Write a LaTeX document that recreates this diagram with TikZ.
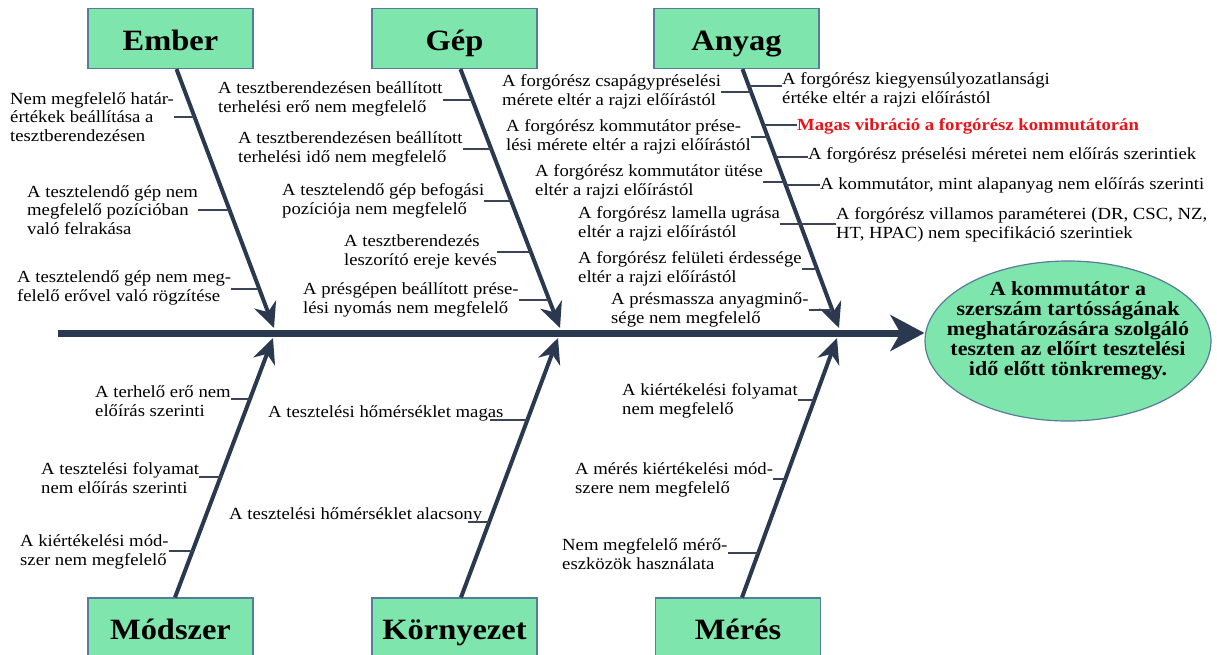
\documentclass[tikz,border=0pt]{standalone}
\usepackage{fontspec}
\setmainfont{Liberation Serif}[FakeStretch=1.1]
\usepackage{tikz}
\usetikzlibrary{arrows.meta}
\usetikzlibrary{shapes}
\usetikzlibrary{calc}
\usetikzlibrary{positioning}
\definecolor{boxgreen}{RGB}{126,230,172}
\definecolor{boxedge}{RGB}{86,124,156}
\definecolor{bonecol}{RGB}{42,56,80}
\definecolor{tickcol}{RGB}{58,68,86}
\definecolor{hotred}{RGB}{232,20,26}

\begin{document}
\begin{tikzpicture}
          [x=1pt, y=-1pt,
           catbox/.style={draw=boxedge, line width=1.2pt, fill=boxgreen, minimum width=165pt, minimum height=60pt, inner sep=0pt, text height=23pt, text depth=0pt, font=\fontsize{29.5}{30}\selectfont\bfseries},
           cause/.style={align=left, inner sep=0pt, font=\fontsize{17}{18.5}\selectfont},
           bone/.style={bonecol, line width=4pt, -{Stealth[length=25pt, width=23pt, inset=8pt]}},
           spine/.style={bonecol, line width=7pt, -{Stealth[length=34pt, width=36pt, inset=10pt]}},
           tick/.style={tickcol, line width=1.4pt}]
          \useasboundingbox (0,0) rectangle (1217,654);

          \node[catbox] (ember) at (170.5,38.5) {Ember};
          \node[catbox] (gep) at (454.5,38.5) {Gép};
          \node[catbox] (anyag) at (736.5,38.5) {Anyag};
          \node[catbox] (modszer) at (170.5,628) {Módszer};
          \node[catbox] (kornyezet) at (454.5,628) {Környezet};
          \node[catbox] (meres) at (738,628) {Mérés};

          \node[draw=boxedge, line width=1.2pt, fill=boxgreen, ellipse, minimum width=286pt, minimum height=160pt, inner sep=0pt] (effect) at (1068,341) {};
          \node[align=center, font=\fontsize{20}{20}\selectfont\bfseries] (effectText) at (1068,331) {A kommutátor a\\szerszám tartósságának\\meghatározására szolgáló\\teszten az előírt tesztelési\\idő előtt tönkremegy.};

          \coordinate (spineStart) at (58,333);
          \coordinate (emberTip) at (274,328);
          \coordinate (gepTip) at (560,328);
          \coordinate (anyagTip) at (839,328);
          \coordinate (modszerTip) at (273,338);
          \coordinate (kornyezetTip) at (558,338);
          \coordinate (meresTip) at (837,338);

          \draw[spine] (spineStart) -- (spineStart -| effect.west);
          \draw[bone] ([xshift=6pt]ember.south) -- (emberTip);
          \draw[bone] ([xshift=6pt]gep.south) -- (gepTip);
          \draw[bone] ([xshift=6pt]anyag.south) -- (anyagTip);
          \draw[bone] ([xshift=4.5pt]modszer.north) -- (modszerTip);
          \draw[bone] ([xshift=6.5pt]kornyezet.north) -- (kornyezetTip);
          \draw[bone] ([xshift=4pt]meres.north) -- (meresTip);

          % Ember
          \node[cause, anchor=west] (e1) at (10,117) {Nem megfelelő határ-\\értékek beállítása a\\tesztberendezésen};
          \node[cause, anchor=west] (e2) at (27,210) {A tesztelendő gép nem\\megfelelő pozícióban\\való felrakása};
          \node[cause, anchor=west] (e3) at (17,288) {A tesztelendő gép nem meg-\\felelő erővel való rögzítése};
          \coordinate (e1b) at (194.9,117);
          \coordinate (e2b) at (229.8,210);
          \coordinate (e3b) at (259.4,289);
          \foreach \c in {e1,e2,e3}
            \draw[tick] (\c.east |- \c b) -- (\c b);

          % Gep
          \node[cause, anchor=west] (g1) at (218,99) {A tesztberendezésen beállított\\terhelési erő nem megfelelő};
          \node[cause, anchor=west] (g2) at (238,149) {A tesztberendezésen beállított\\terhelési idő nem megfelelő};
          \node[cause, anchor=west] (g3) at (282,201) {A tesztelendő gép befogási\\pozíciója nem megfelelő};
          \node[cause, anchor=west] (g4) at (344,252) {A tesztberendezés\\leszorító ereje kevés};
          \node[cause, anchor=west] (g5) at (303,300) {A présgépen beállított prése-\\lési nyomás nem megfelelő};
          \coordinate (g1b) at (472.7,100);
          \coordinate (g2b) at (491.5,149);
          \coordinate (g3b) at (511.4,201);
          \coordinate (g4b) at (530.9,252);
          \coordinate (g5b) at (549.3,300);
          \foreach \c in {g1,g2,g3,g4,g5}
            \draw[tick] (\c.east |- \c b) -- (\c b);

          % Anyag
          \node[cause, anchor=west] (a1) at (502,92) {A forgórész csapágypréselési\\mérete eltér a rajzi előírástól};
          \node[cause, anchor=west] (a2) at (506,137) {A forgórész kommutátor prése-\\lési mérete eltér a rajzi előírástól};
          \node[cause, anchor=west] (a3) at (535,182) {A forgórész kommutátor ütése\\eltér a rajzi előírástól};
          \node[cause, anchor=west] (a4) at (578,224) {A forgórész lamella ugrása\\eltér a rajzi előírástól};
          \node[cause, anchor=west] (a5) at (578,269) {A forgórész felületi érdessége\\eltér a rajzi előírástól};
          \node[cause, anchor=west] (a6) at (611,310) {A présmassza anyagminő-\\sége nem megfelelő};
          \coordinate (a1b) at (751.4,92);
          \coordinate (a2b) at (768.1,137);
          \coordinate (a3b) at (784.8,182);
          \coordinate (a4b) at (800.4,224);
          \coordinate (a5b) at (817.1,269);
          \coordinate (a6b) at (832.3,310);
          \foreach \c in {a1,a2,a3,a4,a5,a6}
            \draw[tick] (\c.east |- \c b) -- (\c b);

          \node[cause, anchor=west] (r1) at (782,90) {A forgórész kiegyensúlyozatlansági\\értéke eltér a rajzi előírástól};
          \node[cause, anchor=west, text=hotred, font=\fontsize{17}{18.5}\selectfont\bfseries] (r2) at (797,126) {Magas vibráció a forgórész kommutátorán};
          \node[cause, anchor=west] (r3) at (808,155) {A forgórész préselési méretei nem előírás szerintiek};
          \node[cause, anchor=west] (r4) at (820,185) {A kommutátor, mint alapanyag nem előírás szerinti};
          \node[cause, anchor=west] (r5) at (836,225) {A forgórész villamos paraméterei (DR, CSC, NZ,\\HT, HPAC) nem specifikáció szerintiek};
          \coordinate (r1b) at (749.2,86);
          \coordinate (r2b) at (763.7,125);
          \coordinate (r3b) at (775.5,157);
          \coordinate (r4b) at (785.9,185);
          \coordinate (r5b) at (800.4,224);
          \foreach \c in {r1,r2,r3,r4,r5}
            \draw[tick] (\c b) -- (\c b -| \c.west);

          % Modszer
          \node[cause, anchor=west] (m1) at (95,401) {A terhelő erő nem\\előírás szerinti};
          \node[cause, anchor=west] (m2) at (41,478) {A tesztelési folyamat\\nem előírás szerinti};
          \node[cause, anchor=west] (m3) at (20,552) {A kiértékelési mód-\\szer nem megfelelő};
          \coordinate (m1b) at (250.0,399);
          \coordinate (m2b) at (220.5,477);
          \coordinate (m3b) at (192.5,551);
          \foreach \c in {m1,m2,m3}
            \draw[tick] (\c.east |- \c b) -- (\c b);

          % Kornyezet
          \node[cause, anchor=west] (k1) at (268,413) {A tesztelési hőmérséklet magas};
          \node[cause, anchor=west] (k2) at (229,515) {A tesztelési hőmérséklet alacsony};
          \coordinate (k1b) at (527.3,420);
          \coordinate (k2b) at (489.2,522);
          \foreach \c in {k1,k2}
            \draw[tick] ($(\c.east |- \c b) + (-14,0)$) -- (\c b);

          % Meres
          \node[cause, anchor=west] (s1) at (622,401) {A kiértékelési folyamat\\nem megfelelő};
          \node[cause, anchor=west] (s2) at (575,480) {A mérés kiértékelési mód-\\szere nem megfelelő};
          \node[cause, anchor=west] (s3) at (562,554) {Nem megfelelő mérő-\\eszközök használata};
          \coordinate (s1b) at (814.3,400);
          \coordinate (s2b) at (785.4,479);
          \coordinate (s3b) at (758.3,553);
          \foreach \c in {s1,s2,s3}
            \draw[tick] (\c.east |- \c b) -- (\c b);

        \end{tikzpicture}
\end{document}
